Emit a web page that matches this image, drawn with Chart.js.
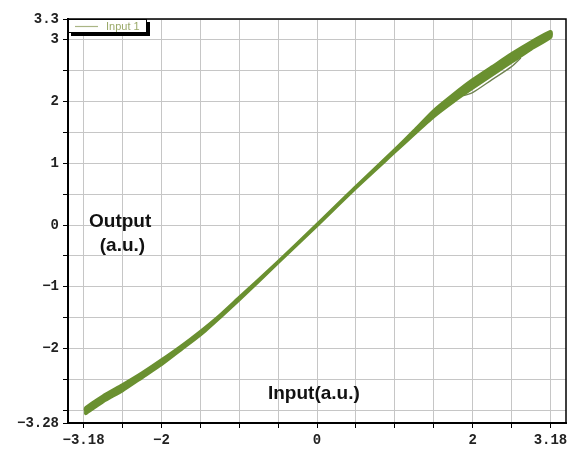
<!DOCTYPE html>
<html>
<head>
<meta charset="utf-8">
<script src="https://cdn.jsdelivr.net/npm/chart.js@4/dist/chart.umd.min.js"></script>
<style>
  html, body { margin: 0; padding: 0; background: #fff; }
  #wrap { width: 579px; height: 453px; }
</style>
</head>
<body>
<div id="wrap"><canvas id="chart"></canvas></div>
<script>
// values (three passes of the loop)
const seriesName = 'Input 1';
const inputX     = [-2.97, -2.75, -2.5, -2.25, -2, -1.75, -1.5, -1.25, -1, -0.5, 0, 0.5, 1, 1.25, 1.5, 1.75, 2, 2.25, 2.5, 2.75, 3.0];
const outputUp   = [-2.96, -2.77, -2.59, -2.40, -2.19, -1.97, -1.73, -1.47, -1.18, -0.60, 0, 0.61, 1.21, 1.52, 1.84, 2.10, 2.34, 2.55, 2.76, 2.95, 3.12];
const outputMid  = [-3.00, -2.81, -2.63, -2.43, -2.22, -1.99, -1.75, -1.48, -1.19, -0.60, 0, 0.61, 1.20, 1.50, 1.80, 2.05, 2.28, 2.49, 2.70, 2.90, 3.08];
const outputDown = [-3.04, -2.85, -2.67, -2.46, -2.25, -2.01, -1.77, -1.49, -1.20, -0.60, 0, 0.61, 1.19, 1.48, 1.76, 2.00, 2.22, 2.43, 2.64, 2.85, 3.04];
// thin stray trace under the band near the top
const strayX = [1.88, 2.0, 2.25, 2.5, 2.62];
const strayY = [2.09, 2.14, 2.35, 2.56, 2.70];

const xTickVals = [-3, -2.5, -2, -1.5, -1, -0.5, 0, 0.5, 1, 1.5, 2, 2.5, 3];
const xTickText = { '-3': '\u22123.18', '-2': '\u22122', '0': '0', '2': '2', '3': '3.18' };
const yTickVals = [-3.2, -3, -2.5, -2, -1.5, -1, -0.5, 0, 0.5, 1, 1.5, 2, 2.5, 3, 3.33];
const yTickText = { '-3.2': '\u22123.28', '-2': '\u22122', '-1': '\u22121', '0': '0', '1': '1', '2': '2', '3': '3', '3.33': '3.3' };

const lineColor = '#6a9030';
const monoFont = { family: 'Liberation Mono', weight: 'bold', size: 14 };

const pts = (xs, ys) => xs.map((x, i) => ({ x, y: ys[i] }));
const loopPts = pts(inputX, outputDown)
  .concat(pts(inputX, outputUp).reverse())
  .concat(pts(inputX, outputMid));

const extras = {
  id: 'extras',
  afterDatasetsDraw(chart) {
    const { ctx, chartArea: a, scales: { x, y } } = chart;
    ctx.save();
    // frame top / right
    ctx.strokeStyle = '#000';
    ctx.lineWidth = 1.5;
    ctx.beginPath();
    ctx.moveTo(a.left, a.top); ctx.lineTo(a.right, a.top); ctx.lineTo(a.right, a.bottom);
    ctx.stroke();

    // axis titles sit inside the plot
    ctx.fillStyle = '#111';
    ctx.font = 'bold 19px "Liberation Sans", Arial, sans-serif';
    ctx.textAlign = 'center';
    ctx.textBaseline = 'middle';
    ctx.fillText('Output', x.getPixelForValue(-2.53), y.getPixelForValue(0.05));
    ctx.fillText('(a.u.)', x.getPixelForValue(-2.5), y.getPixelForValue(-0.34));
    ctx.fillText('Input(a.u.)', x.getPixelForValue(-0.04), y.getPixelForValue(-2.73));

    // legend box with drop shadow
    const lx = a.left, ly = a.top, lw = 79, lh = 14;
    ctx.fillStyle = '#000';
    ctx.fillRect(lx + 3, ly + 3, lw, lh);
    ctx.fillStyle = '#fff';
    ctx.fillRect(lx, ly, lw, lh);
    ctx.strokeStyle = '#000';
    ctx.lineWidth = 1;
    ctx.strokeRect(lx + 0.5, ly + 0.5, lw - 1, lh - 1);
    ctx.strokeStyle = '#aab585';
    ctx.lineWidth = 1.2;
    ctx.beginPath();
    ctx.moveTo(lx + 7, ly + 7.5); ctx.lineTo(lx + 30, ly + 7.5);
    ctx.stroke();
    ctx.fillStyle = '#9aa968';
    ctx.font = '11px "Liberation Sans", Arial, sans-serif';
    ctx.textAlign = 'left';
    ctx.fillText(seriesName, lx + 38, ly + 8);
    ctx.restore();
  }
};

new Chart(document.getElementById('chart'), {
  type: 'scatter',
  data: {
    datasets: [
      { label: seriesName, data: loopPts, showLine: true, borderColor: lineColor, borderWidth: 4,
        borderCapStyle: 'round', borderJoinStyle: 'round', pointRadius: 0, tension: 0.2, fill: false },
      { label: seriesName + ' (stray)', data: pts(strayX, strayY), showLine: true, borderColor: '#6f8250',
        borderWidth: 1.3, pointRadius: 0, tension: 0.3, fill: false }
    ]
  },
  options: {
    responsive: true,
    maintainAspectRatio: false,
    animation: false,
    layout: { padding: { top: 19, right: 13, left: 0, bottom: 0 } },
    plugins: { legend: { display: false }, tooltip: { enabled: false } },
    scales: {
      x: {
        type: 'linear', min: -3.2, max: 3.2,
        afterBuildTicks: s => { s.ticks = xTickVals.map(v => ({ value: v })); },
        afterFit: s => { s.height = 30; },
        ticks: { callback: v => xTickText[v] ?? '', font: monoFont, color: '#222', padding: 4, maxRotation: 0, autoSkip: false },
        grid: { color: '#c6c6c6', tickColor: '#000', tickLength: 5, lineWidth: 1 },
        border: { color: '#000', width: 2 }
      },
      y: {
        type: 'linear', min: -3.2, max: 3.33,
        afterBuildTicks: s => { s.ticks = yTickVals.map(v => ({ value: v })); },
        afterFit: s => { s.width = 68; },
        ticks: { callback: v => yTickText[v] ?? '', font: monoFont, color: '#222', padding: 4, autoSkip: false },
        grid: { color: '#c6c6c6', tickColor: '#000', tickLength: 5, lineWidth: 1 },
        border: { color: '#000', width: 2 }
      }
    }
  },
  plugins: [extras]
});
</script>
</body>
</html>
